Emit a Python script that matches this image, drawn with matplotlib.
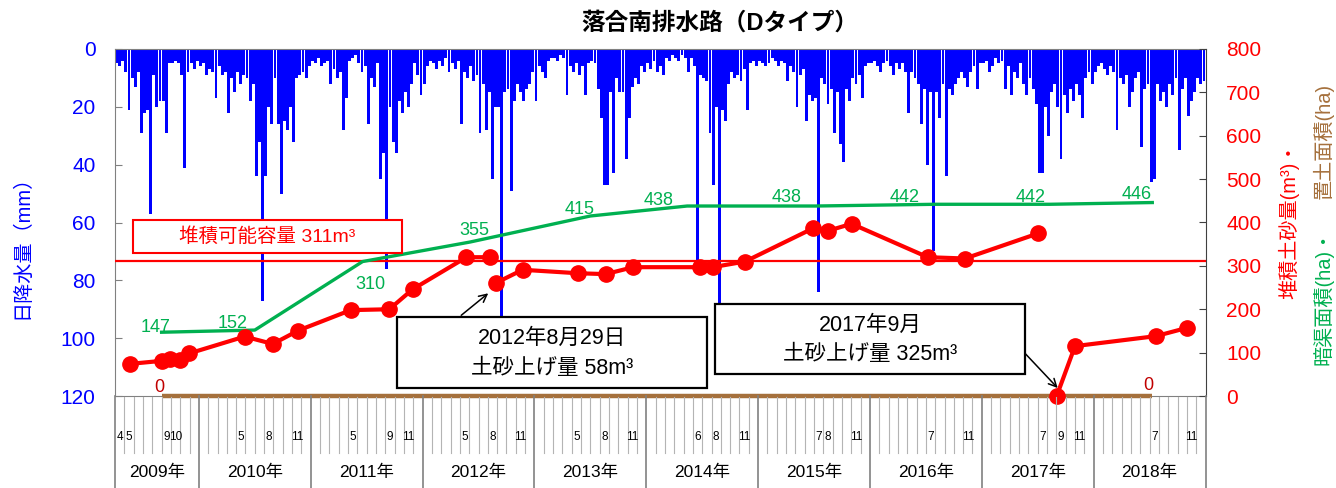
import calendar
import numpy as np
import matplotlib
matplotlib.use('Agg')
import matplotlib.pyplot as plt
from matplotlib import transforms
from matplotlib.patches import Rectangle
from matplotlib.lines import Line2D

plt.rcParams['font.family'] = ['Liberation Sans', 'Noto Sans CJK JP']

# ---------------- data ----------------
title = '落合南排水路（Dタイプ）'

# daily rainfall (mm), max per ten-day period, Apr 2009 - Dec 2018
rain_2009 = [5, 6, 4, 8, 21, 10, 13, 8, 29, 22, 21, 57, 9, 20, 18, 18, 29, 5,
             5, 4, 5, 9, 41, 8, 5, 7, 4]
rain_2010 = [6, 5, 9, 7, 8, 17, 6, 9, 8, 22, 10, 15, 8, 12, 9, 10, 18, 12,
             44, 32, 87, 44, 20, 26, 10, 26, 50, 25, 28, 20, 32, 10, 9, 8, 10, 6]
rain_2011 = [4, 5, 3, 6, 5, 4, 12, 7, 10, 8, 28, 17, 4, 3, 2, 5, 8, 6,
             26, 10, 13, 5, 45, 36, 76, 20, 32, 36, 18, 22, 15, 20, 12, 5, 9, 16]
rain_2012 = [12, 6, 4, 5, 7, 4, 6, 3, 8, 5, 7, 4, 26, 8, 10, 6, 11, 9,
             29, 12, 28, 15, 45, 20, 20, 100, 15, 14, 49, 18, 12, 15, 18, 14, 12, 8]
rain_2013 = [18, 6, 8, 10, 4, 3, 3, 4, 2, 3, 16, 6, 8, 5, 9, 6, 16, 5,
             4, 5, 14, 24, 47, 47, 15, 43, 10, 15, 15, 38, 24, 13, 10, 12, 6, 8]
rain_2014 = [5, 7, 4, 8, 6, 9, 3, 4, 2, 3, 4, 2, 3, 8, 3, 6, 74, 9,
             10, 11, 29, 47, 20, 95, 21, 25, 12, 8, 10, 9, 11, 7, 21, 5, 4, 6]
rain_2015 = [4, 5, 6, 5, 3, 4, 6, 4, 5, 11, 6, 8, 20, 9, 7, 25, 16, 18,
             17, 84, 10, 12, 19, 14, 29, 15, 33, 39, 14, 18, 10, 12, 9, 17, 6, 5]
rain_2016 = [5, 4, 6, 8, 5, 4, 6, 9, 5, 7, 5, 8, 22, 8, 10, 12, 26, 14,
             40, 15, 70, 15, 24, 12, 44, 14, 16, 12, 10, 8, 10, 13, 8, 6, 14, 5]
rain_2017 = [5, 4, 8, 6, 3, 5, 4, 14, 6, 16, 8, 10, 5, 12, 16, 10, 14, 19,
             43, 43, 20, 30, 15, 12, 20, 38, 16, 22, 14, 18, 12, 16, 24, 10, 8, 12]
rain_2018 = [8, 6, 5, 7, 9, 6, 8, 28, 10, 12, 9, 20, 15, 10, 8, 34, 14, 12,
             46, 45, 12, 18, 15, 20, 12, 16, 10, 35, 14, 10, 23, 18, 15, 10, 12, 11]

# accumulated sediment (m3); None marks a break in the line
sediment_dates = ['2009-05-19', '2009-09-01', '2009-09-28', '2009-10-30', '2009-11-29',
                  '2010-05-29', '2010-08-30', '2010-11-21',
                  '2011-05-10', '2011-09-14', '2011-11-29',
                  '2012-05-23', '2012-08-08', None, '2012-08-29', '2012-11-23',
                  '2013-05-22', '2013-08-21', '2013-11-19',
                  '2014-06-24', '2014-08-05', '2014-11-19',
                  '2015-06-29', '2015-08-17', '2015-11-02',
                  '2016-07-07', '2016-11-07',
                  '2017-07-03', None, '2017-09-02', '2017-11-01',
                  '2018-07-22', '2018-11-01']
sediment_m3 = [74, 81, 85, 83, 98,
               137, 120, 151,
               198, 200, 246,
               320, 320, None, 261, 291,
               283, 281, 297,
               297, 297, 310,
               387, 381, 397,
               320, 317,
               375, None, 0, 115,
               138, 157]

# drained area (ha) and soil placement area (ha)
area_dates = ['2009-09-01', '2010-07-01', '2011-06-18', '2012-06-04', '2013-07-01',
              '2014-05-13', '2015-07-07', '2016-08-01', '2017-08-10', '2018-07-10']
drain_area_ha = [147, 152, 310, 355, 415, 438, 438, 442, 442, 446]
soil_area_ha = [0, 0, 0, 0, 0, 0, 0, 0, 0, 0]

capacity_m3 = 311

years = [2009, 2010, 2011, 2012, 2013, 2014, 2015, 2016, 2017, 2018]
month_labels = {2009: [4, 5, 9, 10], 2010: [5, 8, 11], 2011: [5, 9, 11],
                2012: [5, 8, 11], 2013: [5, 8, 11], 2014: [6, 8, 11],
                2015: [7, 8, 11], 2016: [7, 11], 2017: [7, 9, 11], 2018: [7, 11]}

# ---------------- helpers ----------------
def mpos(s):
    y, m, d = map(int, s.split('-'))
    dim = calendar.monthrange(y, m)[1]
    return (y - 2009) * 12 + (m - 4) + (d - 1) / dim

def mstart(y, m):
    return (y - 2009) * 12 + (m - 4)

BLUE = '#0000FF'
RED = '#FF0000'
GREEN = '#00B050'
BROWN = '#A5703C'
DARKRED = '#C00000'

W, H = 1336, 488
fig = plt.figure(figsize=(W / 100, H / 100), dpi=100)
L, R, T, B = 115, 1205.5, 49, 396
ax = fig.add_axes([L / W, 1 - B / H, (R - L) / W, (B - T) / H])
ax2 = ax.twinx()

def fx(px):
    return px / W

def fy(py):
    return 1 - py / H

# ---------------- rainfall ----------------
rain_all = rain_2009 + rain_2010 + rain_2011 + rain_2012 + rain_2013 + \
    rain_2014 + rain_2015 + rain_2016 + rain_2017 + rain_2018
xr = (np.arange(len(rain_all)) + 0.5) / 3.0
ax.bar(xr, rain_all, width=0.31, color=BLUE, linewidth=0, zorder=2)
ax.set_xlim(0, 117)
ax.set_ylim(120, 0)
ax.set_yticks([0, 20, 40, 60, 80, 100, 120])
ax.set_xticks([])
ax.tick_params(axis='y', direction='in', length=5, color='#808080',
               labelcolor=BLUE, labelsize=15, pad=14)
for s in ['left', 'top', 'bottom']:
    ax.spines[s].set_color('#808080')
ax.spines['right'].set_visible(False)

# ---------------- secondary axis ----------------
ax2.set_ylim(0, 800)
ax2.set_yticks(range(0, 801, 100))
ax2.tick_params(axis='y', direction='in', length=5, color='#404040',
                labelcolor=RED, labelsize=15, pad=15)
for s in ['left', 'top', 'bottom']:
    ax2.spines[s].set_visible(False)
ax2.spines['right'].set_color('#404040')
ax2.set_xlim(0, 117)

ax2.axhline(capacity_m3, color=RED, lw=1.6, zorder=2)

ax_x = [mpos(d) for d in area_dates]
ax2.plot(ax_x, drain_area_ha, color=GREEN, lw=2.4, zorder=3)
ax2.plot(ax_x, soil_area_ha, color=BROWN, lw=3.2, zorder=3, clip_on=False,
         solid_capstyle='butt')

sx = [mpos(d) if d else np.nan for d in sediment_dates]
sy = [v if v is not None else np.nan for v in sediment_m3]
ax2.plot(sx, sy, color=RED, lw=3.0, marker='o', ms=11, zorder=4, clip_on=False)

# green data labels (offsets in pixels)
green_off = [(-6, -5), (-22, -7), (8, 23), (4, -12), (-11, -6),
             (-29, -6), (-29, -9), (-31, -7), (-19, -7), (-16, -8)]
for x, v, (dx, dy) in zip(ax_x, drain_area_ha, green_off):
    ax2.annotate(str(v), (x, v), xytext=(dx * 0.72, -dy * 0.72),
                 textcoords='offset points', ha='center', va='center',
                 color=GREEN, fontsize=13, zorder=5)
# soil area labels (first and last)
for i, (dx, dy) in [(0, (-2, -8)), (len(ax_x) - 1, (-4, -11))]:
    ax2.annotate(str(soil_area_ha[i]), (ax_x[i], soil_area_ha[i]),
                 xytext=(dx * 0.72, -dy * 0.72), textcoords='offset points',
                 ha='center', va='center', color=DARKRED, fontsize=13, zorder=5)

# arrows
def arrow_to(datestr, val, tip_off_px, tail_off_px):
    tr = ax2.transData + transforms.ScaledTranslation(
        tip_off_px[0] / 100, -tip_off_px[1] / 100, fig.dpi_scale_trans)
    ax2.annotate('', xy=(mpos(datestr), val), xycoords=tr,
                 xytext=(tail_off_px[0] * 0.72, -tail_off_px[1] * 0.72),
                 textcoords='offset points',
                 arrowprops=dict(arrowstyle='->', color='black', lw=1.1,
                                 shrinkA=0, shrinkB=0, mutation_scale=14),
                 zorder=6, annotation_clip=False)

arrow_to('2012-08-29', 261, (-8, 10.5), (-27, 22))
arrow_to('2017-09-02', 0, (1, -8), (-33, -35))

# ---------------- boxes ----------------
def box(x0, y0, x1, y1, ec, lw):
    r = Rectangle((fx(x0), fy(y1)), fx(x1) - fx(x0), fy(y0) - fy(y1),
                  transform=fig.transFigure, facecolor='white', edgecolor=ec,
                  lw=lw, zorder=10)
    fig.add_artist(r)

box(133, 220, 402, 253, RED, 1.5)
fig.text(fx(267), fy(237), f'堆積可能容量 {capacity_m3}m³', color=RED,
         fontsize=14, ha='center', va='center', zorder=11)

box(397, 317, 707, 388, 'black', 1.6)
fig.text(fx(552), fy(338), '2012年8月29日', fontsize=15.5, ha='center',
         va='center', zorder=11)
fig.text(fx(552), fy(368), '土砂上げ量 58m³', fontsize=15.5, ha='center',
         va='center', zorder=11)

box(715, 304, 1025, 374, 'black', 1.6)
fig.text(fx(870), fy(325), '2017年9月', fontsize=15.5, ha='center',
         va='center', zorder=11)
fig.text(fx(870), fy(355), '土砂上げ量 325m³', fontsize=15.5, ha='center',
         va='center', zorder=11)

# ---------------- category table below ----------------
bt = transforms.blended_transform_factory(ax.transData, fig.transFigure)
year_bounds = [0] + [mstart(y, 1) for y in years[1:]] + [117]
for m in range(0, 118):
    if m in year_bounds:
        fig.add_artist(Line2D([m, m], [fy(396), fy(488)], transform=bt,
                              color='#808080', lw=1.2, zorder=3))
    else:
        fig.add_artist(Line2D([m, m], [fy(397), fy(453)], transform=bt,
                              color='#B4B4B4', lw=0.8, zorder=3))
for y in years:
    for mo in month_labels[y]:
        fig.text(mstart(y, mo) + 0.5, fy(437), str(mo), transform=bt,
                 ha='center', va='center', fontsize=8.5, zorder=4)
for i, y in enumerate(years):
    c = (year_bounds[i] + year_bounds[i + 1]) / 2
    fig.text(c, fy(472), f'{y}年', transform=bt, ha='center', va='center',
             fontsize=12.5, zorder=4)

# ---------------- titles / axis labels ----------------
fig.text(fx(720), fy(23), title, ha='center', va='center', fontsize=17,
         fontweight='bold')
fig.text(fx(22), fy(242), '日降水量（mm）', rotation=90, ha='center',
         va='center', color=BLUE, fontsize=14.5)
fig.text(fx(1289), fy(220), '堆積土砂量(m³)・', rotation=90, ha='center',
         va='center', color=RED, fontsize=14.5)
fig.text(fx(1323), fy(365), '暗渠面積(ha)・', rotation=90, ha='center',
         va='bottom', color=GREEN, fontsize=14.5)
fig.text(fx(1323), fy(83), '置土面積(ha)', rotation=90, ha='center',
         va='top', color=BROWN, fontsize=14.5)

fig.savefig('out.png', dpi=100)
